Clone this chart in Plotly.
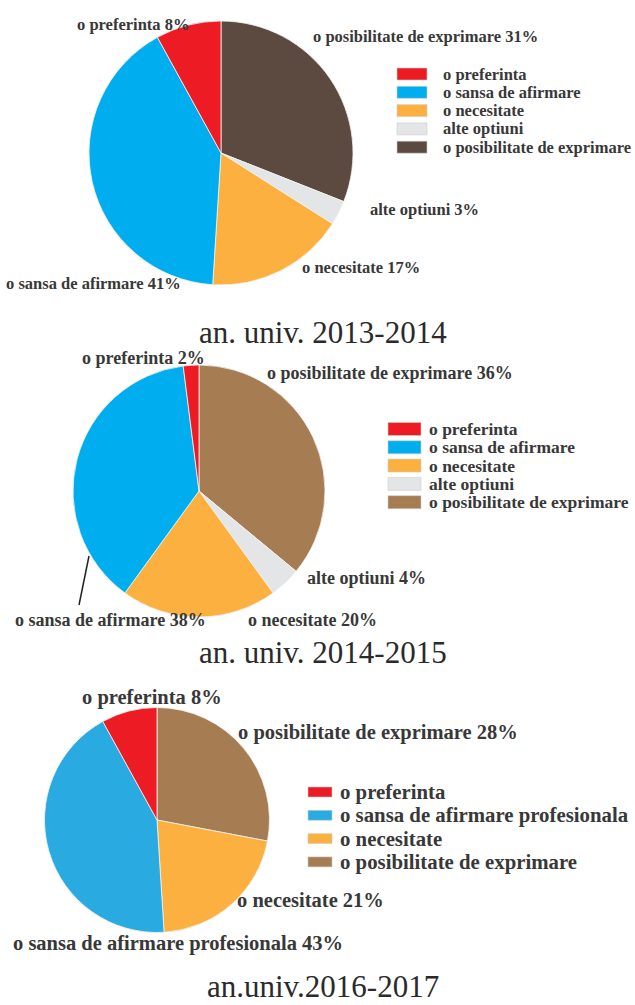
import plotly.graph_objects as go

W, H = 635, 1005

# data (legend order)
labels_1 = ["o preferinta", "o sansa de afirmare", "o necesitate", "alte optiuni", "o posibilitate de exprimare"]
values_1 = [8, 41, 17, 3, 31]
colors_1 = ["#ED1C24", "#00AEEF", "#FBB040", "#E4E5E7", "#5C4A41"]

labels_2 = ["o preferinta", "o sansa de afirmare", "o necesitate", "alte optiuni", "o posibilitate de exprimare"]
values_2 = [2, 38, 20, 4, 36]
colors_2 = ["#ED1C24", "#00AEEF", "#FBB040", "#E4E5E7", "#A67C52"]

labels_3 = ["o preferinta", "o sansa de afirmare profesionala", "o necesitate", "o posibilitate de exprimare"]
values_3 = [8, 43, 21, 28]
colors_3 = ["#ED1C24", "#29ABE2", "#FBB040", "#A67C52"]

captions = ["an. univ. 2013-2014", "an. univ. 2014-2015", "an.univ.2016-2017"]

SERIF = "Liberation Serif"
TXT = "#383838"


def px(x):
    return x / W


def py(y):
    return 1 - y / H


# per panel: pie centre/diameter, label spots (left x, centre y), legend geometry, fonts, caption y
panels = [
    dict(labels=labels_1, values=values_1, colors=colors_1, cx=221, cy=153, d=264,
         spots=[(75, 25), (4, 284), (300, 268), (368, 210), (311, 36)],
         sw=(397, 427, 12), text_x=441, row0=74, step=18.3, lfont=16.5, tfont=16.5, cap_y=332),
    dict(labels=labels_2, values=values_2, colors=colors_2, cx=199, cy=491, d=252,
         spots=[(80, 358), (13, 620), (246, 620), (305, 578), (265, 373)],
         sw=(388, 421, 13), text_x=427, row0=429, step=18.3, lfont=17.5, tfont=18, cap_y=652),
    dict(labels=labels_3, values=values_3, colors=colors_3, cx=157, cy=820, d=225,
         spots=[(80, 697), (11, 943), (235, 900), (236, 732)],
         sw=(308, 332, 10), text_x=338, row0=792, step=23.3, lfont=20.8, tfont=20.5, cap_y=986),
]

fig = go.Figure()
annotations = []
shapes = []

for i, p in enumerate(panels):
    r = p["d"] / 2
    # slices run clockwise from 12 o'clock, starting with the last legend entry
    fig.add_trace(go.Pie(
        labels=p["labels"][::-1],
        values=p["values"][::-1],
        marker=dict(colors=p["colors"][::-1], line=dict(color="#f2f2f2", width=0.8)),
        sort=False,
        direction="clockwise",
        textinfo="none",
        hoverinfo="label+percent",
        domain=dict(x=[px(p["cx"] - r), px(p["cx"] + r)], y=[py(p["cy"] + r), py(p["cy"] - r)]),
        showlegend=False,
    ))
    # outside labels
    for lab, val, (lx, ly) in zip(p["labels"], p["values"], p["spots"]):
        annotations.append(dict(
            x=px(lx), y=py(ly), xref="paper", yref="paper",
            text=f"{lab} {val}%", showarrow=False,
            xanchor="left", yanchor="middle",
            font=dict(family=SERIF, size=p["tfont"], color=TXT, weight="bold"),
        ))
    # legend: swatch + text
    x0, x1, sh = p["sw"]
    for k, (lab, col) in enumerate(zip(p["labels"], p["colors"])):
        yc = p["row0"] + k * p["step"]
        shapes.append(dict(type="rect", xref="paper", yref="paper",
                           x0=px(x0), x1=px(x1), y0=py(yc + sh / 2), y1=py(yc - sh / 2),
                           fillcolor=col, line=dict(color="#cfcfcf", width=0.6)))
        annotations.append(dict(
            x=px(p["text_x"]), y=py(yc), xref="paper", yref="paper",
            text=lab, showarrow=False, xanchor="left", yanchor="middle",
            font=dict(family=SERIF, size=p["lfont"], color=TXT, weight="bold"),
        ))
    # caption
    annotations.append(dict(
        x=px(323), y=py(p["cap_y"]), xref="paper", yref="paper",
        text=captions[i], showarrow=False, xanchor="center", yanchor="middle",
        font=dict(family=SERIF, size=31, color="#2a2a2a"),
    ))

# leader line for the 2014-2015 "o sansa de afirmare" label
shapes.append(dict(type="line", xref="paper", yref="paper",
                   x0=px(89), y0=py(556), x1=px(79), y1=py(605),
                   line=dict(color="#222", width=1.5)))

fig.update_layout(
    width=W, height=H,
    margin=dict(l=0, r=0, t=0, b=0),
    paper_bgcolor="white",
    plot_bgcolor="white",
    annotations=annotations,
    shapes=shapes,
    showlegend=False,
)

# drop the page's default body margin so the figure fills the window
fig.write_html("out.html", config={"displayModeBar": False},
               post_script="document.body.style.margin = '0';")
